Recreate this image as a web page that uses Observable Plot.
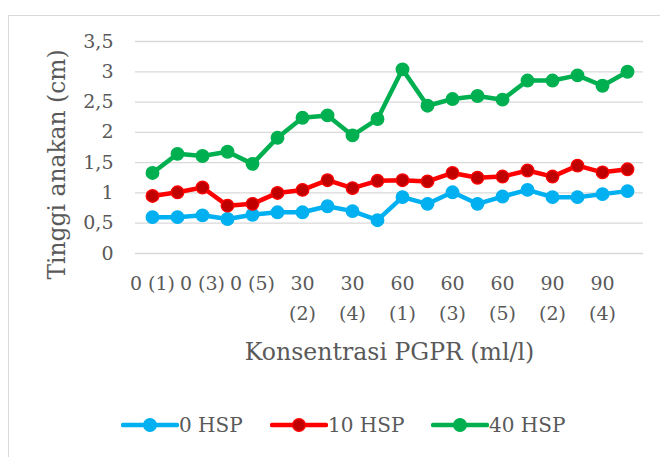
<!DOCTYPE html>
<html>
<head>
<meta charset="utf-8">
<script src="https://cdn.jsdelivr.net/npm/d3@7"></script>
<script src="https://cdn.jsdelivr.net/npm/@observablehq/plot@0.6"></script>
<style>
  html, body { margin: 0; padding: 0; background: #fff; }
  #wrap { position: relative; width: 660px; height: 457px; overflow: hidden; font-family: "DejaVu Serif", serif; }
  #border { position: absolute; left: 8px; top: 15px; width: 700px; height: 500px; border: 1px solid #d9d9d9; box-sizing: border-box; }
  #chart { position: absolute; left: 0; top: 0; }
  #legend { position: absolute; left: 0; top: 411px; width: 660px; color: #595959; font-size: 20px; }
  .item { position: absolute; display: flex; align-items: center; }
  .item svg { display: block; }
</style>
</head>
<body>
<div id="wrap">
  <div id="border"></div>
  <div id="chart"></div>
  <div id="legend"></div>
</div>
<script>
const categories = [
  "0 (1)", "0 (2)", "0 (3)", "0 (4)", "0 (5)",
  "30 (1)", "30 (2)", "30 (3)", "30 (4)", "30 (5)",
  "60 (1)", "60 (2)", "60 (3)", "60 (4)", "60 (5)",
  "90 (1)", "90 (2)", "90 (3)", "90 (4)", "90 (5)"
];
const tickCategories = ["0 (1)", "0 (3)", "0 (5)", "30 (2)", "30 (4)", "60 (1)", "60 (3)", "60 (5)", "90 (2)", "90 (4)"];
const tickLabels = ["0 (1)", "0 (3)", "0 (5)", "30\n(2)", "30\n(4)", "60\n(1)", "60\n(3)", "60\n(5)", "90\n(2)", "90\n(4)"];
const seriesNames = ["0 HSP", "10 HSP", "40 HSP"];
const hsp0 = [0.60, 0.60, 0.63, 0.57, 0.64, 0.68, 0.68, 0.78, 0.70, 0.55, 0.93, 0.82, 1.01, 0.82, 0.94, 1.05, 0.93, 0.93, 0.98, 1.03];
const hsp10 = [0.95, 1.01, 1.09, 0.79, 0.82, 1.00, 1.05, 1.21, 1.08, 1.20, 1.21, 1.19, 1.33, 1.25, 1.27, 1.37, 1.27, 1.45, 1.34, 1.39];
const hsp40 = [1.33, 1.645, 1.61, 1.68, 1.48, 1.91, 2.24, 2.28, 1.95, 2.22, 3.04, 2.44, 2.55, 2.60, 2.54, 2.855, 2.855, 2.94, 2.77, 3.00];
const yTicks = [0, 0.5, 1, 1.5, 2, 2.5, 3, 3.5];
const yTitle = "Tinggi anakan (cm)";
const xTitle = "Konsentrasi PGPR (ml/l)";

const lineColors = ["#00B0F0", "#FF0000", "#00B050"];
const markerFills = ["#00B0F0", "#C00000", "#00B050"];
const textColor = "#595959";
const fontFamily = "DejaVu Serif, serif";

const allSeries = [hsp0, hsp10, hsp40];
const data = allSeries.flatMap((vals, s) => vals.map((v, i) => ({series: seriesNames[s], cat: categories[i], value: v})));
const ticks = tickCategories.map((c, i) => ({cat: c, label: tickLabels[i]}));

const marks = [
  Plot.gridY(yTicks, {stroke: "#d9d9d9", strokeOpacity: 1, strokeWidth: 1.3}),
  Plot.axisY(yTicks, {tickSize: 0, tickPadding: 22, tickFormat: d => String(d).replace(".", ","), fontSize: 19, fill: textColor, label: null, fontFamily}),
  Plot.text(ticks, {x: "cat", text: "label", frameAnchor: "bottom", lineAnchor: "top", dy: 15, lineHeight: 1.6, fontSize: 19, fill: textColor, fontFamily}),
  Plot.text([xTitle], {frameAnchor: "bottom", dy: 99, lineAnchor: "middle", fontSize: 23.6, fill: textColor, fontFamily}),
  Plot.text([yTitle], {frameAnchor: "left", textAnchor: "middle", rotate: -90, dx: -78, dy: 17, lineAnchor: "middle", fontSize: 23.4, fill: textColor, fontFamily})
];
seriesNames.forEach((name, s) => {
  const d = data.filter(r => r.series === name);
  marks.push(Plot.line(d, {x: "cat", y: "value", stroke: lineColors[s], strokeWidth: 4.5, strokeLinejoin: "round", strokeLinecap: "round"}));
  marks.push(Plot.dot(d, {x: "cat", y: "value", r: 6.3, fill: markerFills[s], stroke: lineColors[s], strokeWidth: 1.3}));
});

const chart = Plot.plot({
  width: 660,
  height: 457,
  marginLeft: 135,
  marginRight: 17,
  marginTop: 41,
  marginBottom: 204,
  style: {background: "transparent", fontFamily, color: textColor},
  x: {type: "point", domain: categories, padding: 0.5, axis: null},
  y: {domain: [0, 3.5], axis: null},
  marks
});
document.getElementById("chart").appendChild(chart);

// legend
const legend = document.getElementById("legend");
const legendX = [121, 270, 431];
seriesNames.forEach((name, s) => {
  const item = document.createElement("div");
  item.className = "item";
  item.style.left = legendX[s] + "px";
  item.style.top = "0px";
  item.style.height = "28px";
  const sw = d3.create("svg").attr("width", 58).attr("height", 28);
  sw.append("line").attr("x1", 2).attr("x2", 56).attr("y1", 14).attr("y2", 14)
    .attr("stroke", lineColors[s]).attr("stroke-width", 4.5).attr("stroke-linecap", "round");
  sw.append("circle").attr("cx", 29).attr("cy", 14).attr("r", 6.3)
    .attr("fill", markerFills[s]).attr("stroke", lineColors[s]).attr("stroke-width", 1.3);
  item.appendChild(sw.node());
  const t = document.createElement("span");
  t.textContent = name;
  item.appendChild(t);
  legend.appendChild(item);
});
</script>
</body>
</html>
